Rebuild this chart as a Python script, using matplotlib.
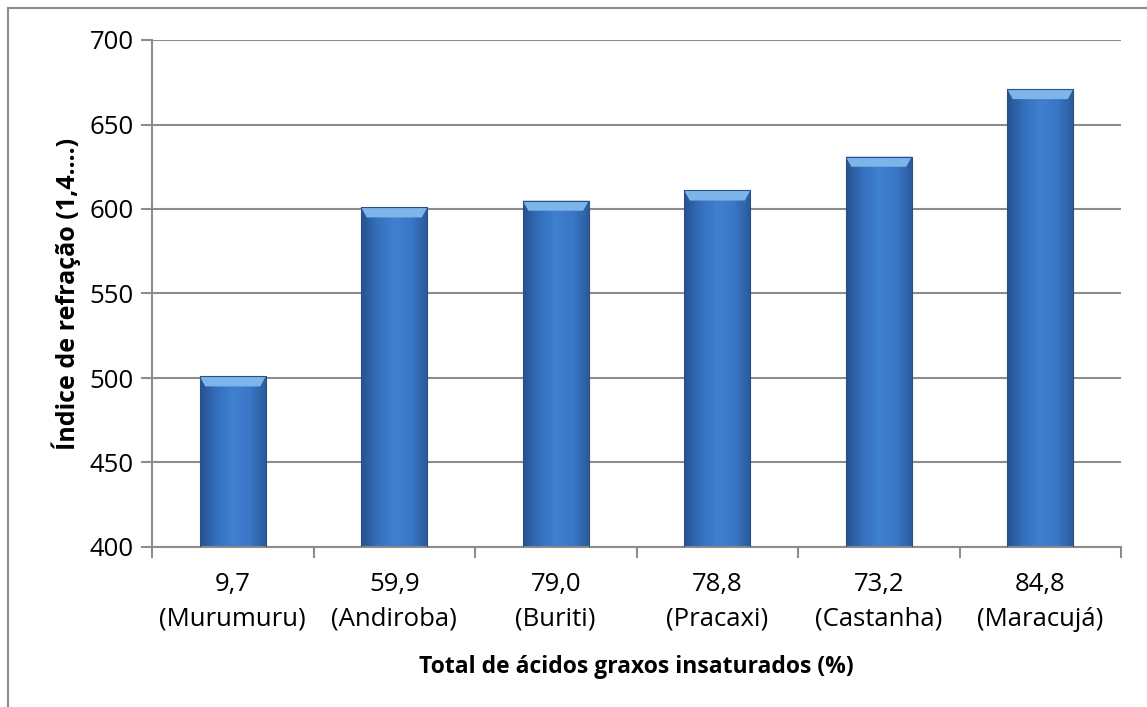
import numpy as np
import matplotlib
matplotlib.use("Agg")
import matplotlib.pyplot as plt
from matplotlib.colors import LinearSegmentedColormap
from matplotlib.lines import Line2D

# data
oils = ["Murumuru", "Andiroba", "Buriti", "Pracaxi", "Castanha", "Maracujá"]
unsaturated = ["9,7", "59,9", "79,0", "78,8", "73,2", "84,8"]
refraction = [501, 601, 605, 611, 631, 671]

plt.rcParams["font.family"] = ["Open Sans", "DejaVu Sans"]

fig = plt.figure(figsize=(11.47, 7.07), dpi=100)
ax = fig.add_axes([152 / 1147, 1 - 547 / 707, (1121 - 152) / 1147, (547 - 40) / 707])

x = np.arange(len(oils))
width = 0.41
ax.set_xlim(-0.5, len(oils) - 0.5)
ax.set_ylim(400, 700)

# horizontal gradient, dark at the edges and lighter in the middle
body = LinearSegmentedColormap.from_list(
    "body", ["#24528f", "#3570bd", "#3f80d0", "#3a77c5", "#295a9a"])
grad = np.linspace(0, 1, 256).reshape(1, -1)

bars = ax.bar(x, np.array(refraction) - 400, width, bottom=400,
              color="none", edgecolor="#2a4f80", lw=0.8, zorder=3)
for b in bars:
    x0, y0, w, h = b.get_x(), b.get_y(), b.get_width(), b.get_height()
    im = ax.imshow(grad, cmap=body, aspect="auto", zorder=2,
                   extent=(x0, x0 + w, y0, y0 + h), interpolation="bicubic")
    im.set_clip_path(b)
    # soft bevel on the top edge
    bevel_h = 6
    ax.fill([x0, x0 + w, x0 + w - 0.035, x0 + 0.035],
            [y0 + h, y0 + h, y0 + h - bevel_h, y0 + h - bevel_h],
            color="#7db4ea", lw=0, zorder=2.5)

ax.set_yticks(np.arange(400, 701, 50))
ax.yaxis.grid(True, color="#8c8c8c", lw=1.5, zorder=0)
ax.set_axisbelow(True)
for s in ["top", "right"]:
    ax.spines[s].set_visible(False)
for s in ["left", "bottom"]:
    ax.spines[s].set_color("#8c8c8c")
    ax.spines[s].set_linewidth(1.5)

# category labels centred, tick marks on the category boundaries
ax.set_xticks(x)
ax.set_xticklabels([f"{u}\n({o})" for u, o in zip(unsaturated, oils)],
                   fontsize=18.5, linespacing=1.5)
ax.tick_params(axis="x", length=0, pad=18)
ax.set_xticks(np.arange(len(oils) + 1) - 0.5, minor=True)
ax.tick_params(axis="x", which="minor", length=8, color="#8c8c8c", width=1.5)
ax.tick_params(axis="y", length=8, color="#8c8c8c", width=1.5, labelsize=18.5, pad=5)

ax.set_ylabel("Índice de refração (1,4....)", fontsize=18, fontweight="bold", labelpad=6)
ax.set_xlabel("Total de ácidos graxos insaturados (%)", fontsize=16.5,
              fontweight="bold", labelpad=17)

# frame of the chart area (only left and top edges show in the picture)
fig.add_artist(Line2D([8 / 1147, 8 / 1147], [0, 1 - 8 / 707],
                      transform=fig.transFigure, color="#8c8c8c", lw=1.5))
fig.add_artist(Line2D([8 / 1147, 1], [1 - 8 / 707, 1 - 8 / 707],
                      transform=fig.transFigure, color="#8c8c8c", lw=1.5))

fig.savefig("out.png", dpi=100)
